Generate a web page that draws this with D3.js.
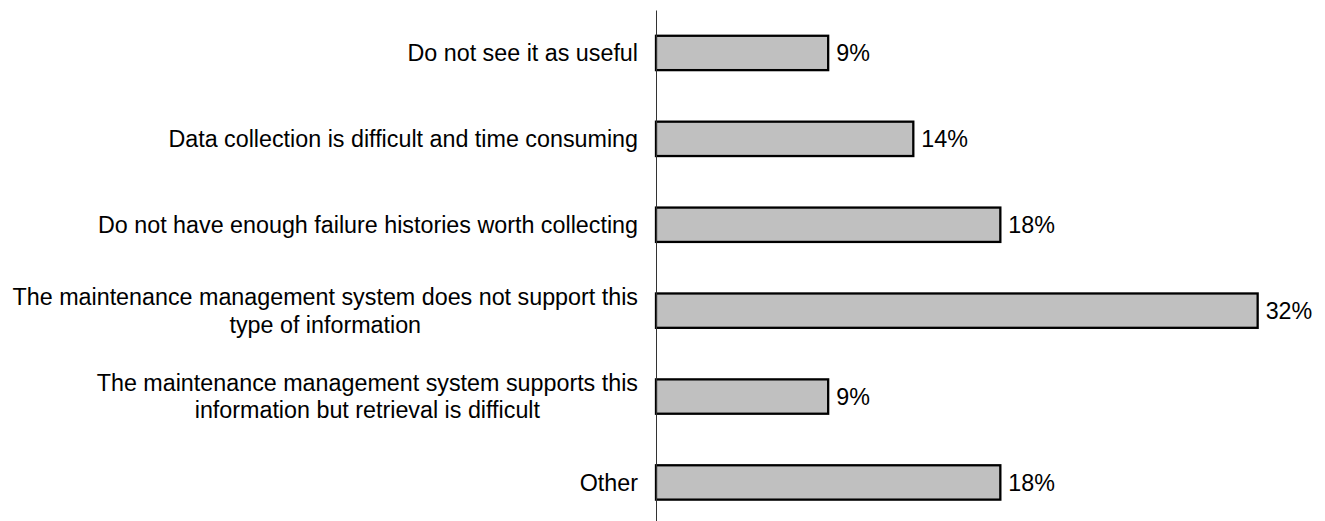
<!DOCTYPE html>
<html>
<head>
<meta charset="utf-8">
<script src="https://cdn.jsdelivr.net/npm/d3@7"></script>
<style>
  html, body { margin: 0; padding: 0; background: #fff; }
  svg { display: block; }
  text { font-family: "Liberation Sans", Arial, sans-serif; fill: #000; }
</style>
</head>
<body>
<svg id="chart" width="1325" height="521"></svg>
<script>
// Reasons for not collecting failure history (share of respondents, %)
const categories = [
  "Do not see it as useful",
  "Data collection is difficult and time consuming",
  "Do not have enough failure histories worth collecting",
  "The maintenance management system does not support this\ntype of information",
  "The maintenance management system supports this\ninformation but retrieval is difficult",
  "Other"
];
const values = [9.1, 13.6, 18.2, 31.8, 9.1, 18.2];

const chartWidth = 1325, chartHeight = 521;
const plotLeft = 656, plotTop = 10;
const fontSize = 23.3;
const lineHeight = 27.5;

const svg = d3.select("#chart");

const x = d3.scaleLinear().domain([0, 35]).range([plotLeft, plotLeft + 35 * 18.92]);
const y = d3.scaleBand()
  .domain(categories)
  .range([plotTop, plotTop + 6 * 85.9])
  .paddingInner(0.6)
  .paddingOuter(0.3);

const fmt = v => d3.format(".0f")(v) + "%";

// bars
svg.append("g")
  .selectAll("rect")
  .data(values)
  .join("rect")
  .attr("x", x(0))
  .attr("y", (d, i) => y(categories[i]))
  .attr("width", d => x(d) - x(0))
  .attr("height", y.bandwidth())
  .attr("fill", "#c0c0c0")
  .attr("stroke", "#000")
  .attr("stroke-width", 2.3);

// value labels
svg.append("g")
  .selectAll("text")
  .data(values)
  .join("text")
  .attr("x", d => x(d) + 8)
  .attr("y", (d, i) => y(categories[i]) + y.bandwidth() / 2)
  .attr("dy", "0.35em")
  .style("font-size", fontSize + "px")
  .text(fmt);

// vertical category axis (line only)
const axis = svg.append("g")
  .attr("transform", `translate(${x(0)},0)`)
  .call(d3.axisLeft(y).tickSize(0).tickSizeOuter(0).tickFormat(""));
axis.select(".domain").attr("stroke", "#333").attr("stroke-width", 1);
axis.selectAll(".tick").remove();

// category labels, multi-line ones centred as a block aligned to the right
const labelRight = 638;
const lg = svg.append("g");
categories.forEach(c => {
  const lines = c.split("\n");
  const cy = y(c) + y.bandwidth() / 2;
  const t = lg.append("text")
    .style("font-size", fontSize + "px");
  lines.forEach((ln, j) => {
    t.append("tspan")
      .attr("y", cy + (j - (lines.length - 1) / 2) * lineHeight)
      .attr("dy", "0.35em")
      .text(ln);
  });
  const widths = t.selectAll("tspan").nodes().map(n => n.getComputedTextLength());
  const maxW = d3.max(widths);
  const cx = labelRight - maxW / 2;
  t.attr("text-anchor", "middle");
  t.selectAll("tspan").attr("x", cx);
});
</script>
</body>
</html>
